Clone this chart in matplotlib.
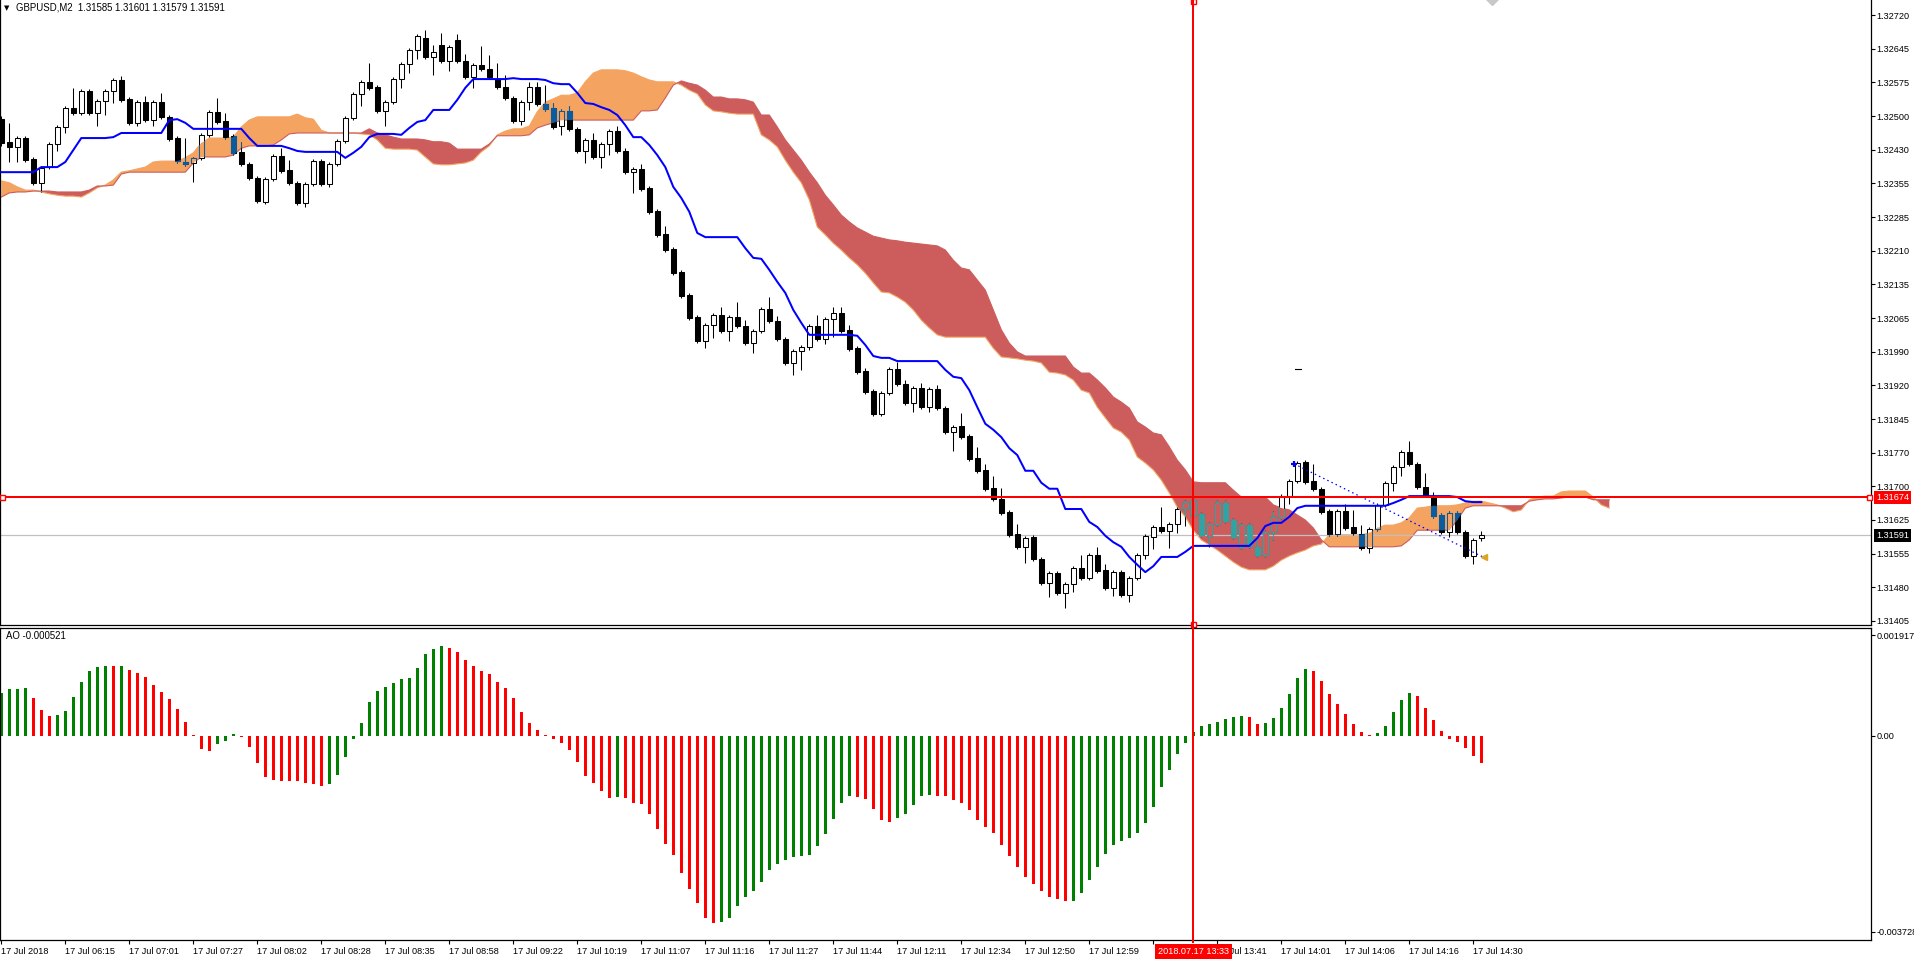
import numpy as np
import matplotlib
matplotlib.use('Agg')
import matplotlib.pyplot as plt
import matplotlib.transforms as mtransforms
from matplotlib.patches import PathPatch
from matplotlib.path import Path
from matplotlib.lines import Line2D

# ---------------------------------------------------------------- data
symbol = "GBPUSD,M2"

opens = [
    1.32494, 1.32445, 1.32434, 1.32453, 1.32408, 1.32356, 1.32390, 1.32440, 1.32477, 1.32518,
    1.32507, 1.32555, 1.32507, 1.32533, 1.32555, 1.32579, 1.32538, 1.32486, 1.32531, 1.32492,
    1.32531, 1.32499, 1.32453, 1.32401, 1.32399, 1.32410, 1.32460, 1.32510, 1.32490, 1.32458,
    1.32423, 1.32397, 1.32366, 1.32314, 1.32364, 1.32414, 1.32384, 1.32356, 1.32312, 1.32353,
    1.32403, 1.32353, 1.32397, 1.32447, 1.32497, 1.32549, 1.32575, 1.32564, 1.32512, 1.32531,
    1.32581, 1.32614, 1.32644, 1.32670, 1.32629, 1.32655, 1.32620, 1.32666, 1.32620, 1.32586,
    1.32612, 1.32603, 1.32581, 1.32564, 1.32540, 1.32490, 1.32531, 1.32564, 1.32527, 1.32518,
    1.32479, 1.32512, 1.32473, 1.32425, 1.32449, 1.32412, 1.32440, 1.32468, 1.32425, 1.32379,
    1.32386, 1.32345, 1.32295, 1.32245, 1.32212, 1.32162, 1.32112, 1.32065, 1.32013, 1.32047,
    1.32069, 1.32034, 1.32065, 1.32045, 1.32008, 1.32034, 1.32082, 1.32056, 1.32017, 1.31965,
    1.31991, 1.32000, 1.32045, 1.32017, 1.32060, 1.32073, 1.32037, 1.31997, 1.31948, 1.31904,
    1.31854, 1.31900, 1.31952, 1.31919, 1.31878, 1.31911, 1.31869, 1.31909, 1.31867, 1.31815,
    1.31828, 1.31807, 1.31759, 1.31733, 1.31694, 1.31670, 1.31642, 1.31594, 1.31566, 1.31587,
    1.31540, 1.31488, 1.31509, 1.31466, 1.31485, 1.31520, 1.31498, 1.31548, 1.31516, 1.31477,
    1.31511, 1.31461, 1.31498, 1.31548, 1.31587, 1.31609, 1.31600, 1.31616, 1.31648, 1.31635,
    1.31637, 1.31590, 1.31616, 1.31661, 1.31624, 1.31566, 1.31613, 1.31566, 1.31548, 1.31598,
    1.31631, 1.31676, 1.31709, 1.31750, 1.31709, 1.31692, 1.31644, 1.31594, 1.31644, 1.31609,
    1.31594, 1.31563, 1.31605, 1.31657, 1.31705, 1.31739, 1.31772, 1.31746, 1.31696, 1.31676,
    1.31635, 1.31598, 1.31639, 1.31598, 1.31546, 1.31585,
]
highs = [
    1.32501, 1.32486, 1.32458, 1.32458, 1.32412, 1.32392, 1.32445, 1.32481, 1.32523, 1.32562,
    1.32560, 1.32560, 1.32538, 1.32560, 1.32583, 1.32588, 1.32542, 1.32536, 1.32544, 1.32536,
    1.32551, 1.32503, 1.32458, 1.32453, 1.32412, 1.32464, 1.32514, 1.32540, 1.32507, 1.32462,
    1.32445, 1.32401, 1.32371, 1.32369, 1.32418, 1.32431, 1.32405, 1.32360, 1.32358, 1.32408,
    1.32408, 1.32401, 1.32451, 1.32501, 1.32553, 1.32579, 1.32616, 1.32568, 1.32536, 1.32586,
    1.32618, 1.32648, 1.32679, 1.32688, 1.32655, 1.32681, 1.32655, 1.32679, 1.32635, 1.32616,
    1.32653, 1.32633, 1.32616, 1.32590, 1.32544, 1.32536, 1.32575, 1.32575, 1.32568, 1.32529,
    1.32516, 1.32523, 1.32477, 1.32453, 1.32464, 1.32445, 1.32473, 1.32479, 1.32431, 1.32390,
    1.32397, 1.32349, 1.32299, 1.32262, 1.32217, 1.32167, 1.32117, 1.32069, 1.32052, 1.32073,
    1.32086, 1.32069, 1.32097, 1.32058, 1.32039, 1.32086, 1.32108, 1.32067, 1.32021, 1.31995,
    1.32004, 1.32050, 1.32069, 1.32065, 1.32086, 1.32086, 1.32047, 1.32002, 1.31954, 1.31909,
    1.31904, 1.31956, 1.31967, 1.31928, 1.31915, 1.31922, 1.31913, 1.31917, 1.31872, 1.31830,
    1.31856, 1.31811, 1.31783, 1.31746, 1.31720, 1.31694, 1.31646, 1.31616, 1.31590, 1.31592,
    1.31544, 1.31514, 1.31514, 1.31490, 1.31524, 1.31548, 1.31553, 1.31566, 1.31529, 1.31516,
    1.31516, 1.31503, 1.31553, 1.31594, 1.31613, 1.31652, 1.31620, 1.31652, 1.31668, 1.31672,
    1.31642, 1.31620, 1.31668, 1.31668, 1.31629, 1.31618, 1.31618, 1.31585, 1.31603, 1.31644,
    1.31681, 1.31713, 1.31752, 1.31754, 1.31746, 1.31696, 1.31648, 1.31648, 1.31659, 1.31646,
    1.31613, 1.31609, 1.31661, 1.31709, 1.31744, 1.31776, 1.31796, 1.31750, 1.31726, 1.31685,
    1.31639, 1.31644, 1.31644, 1.31603, 1.31585, 1.31601,
]
lows = [
    1.32436, 1.32401, 1.32401, 1.32401, 1.32351, 1.32336, 1.32386, 1.32425, 1.32464, 1.32503,
    1.32503, 1.32503, 1.32479, 1.32503, 1.32529, 1.32531, 1.32481, 1.32479, 1.32488, 1.32479,
    1.32494, 1.32447, 1.32399, 1.32392, 1.32358, 1.32405, 1.32455, 1.32484, 1.32451, 1.32416,
    1.32392, 1.32362, 1.32312, 1.32310, 1.32360, 1.32377, 1.32351, 1.32308, 1.32303, 1.32349,
    1.32349, 1.32347, 1.32392, 1.32442, 1.32492, 1.32523, 1.32557, 1.32507, 1.32479, 1.32527,
    1.32562, 1.32594, 1.32625, 1.32625, 1.32590, 1.32616, 1.32599, 1.32616, 1.32581, 1.32562,
    1.32599, 1.32581, 1.32560, 1.32536, 1.32486, 1.32481, 1.32514, 1.32523, 1.32512, 1.32473,
    1.32460, 1.32468, 1.32421, 1.32399, 1.32408, 1.32388, 1.32416, 1.32421, 1.32375, 1.32334,
    1.32338, 1.32288, 1.32238, 1.32206, 1.32156, 1.32106, 1.32058, 1.32008, 1.31997, 1.32019,
    1.32030, 1.32013, 1.32041, 1.32004, 1.31987, 1.32030, 1.32052, 1.32013, 1.31961, 1.31939,
    1.31950, 1.31993, 1.32013, 1.32006, 1.32021, 1.32030, 1.31991, 1.31941, 1.31898, 1.31850,
    1.31850, 1.31895, 1.31915, 1.31874, 1.31859, 1.31865, 1.31859, 1.31863, 1.31811, 1.31774,
    1.31800, 1.31752, 1.31726, 1.31687, 1.31665, 1.31635, 1.31587, 1.31561, 1.31531, 1.31535,
    1.31483, 1.31457, 1.31461, 1.31433, 1.31468, 1.31494, 1.31494, 1.31509, 1.31472, 1.31459,
    1.31457, 1.31446, 1.31494, 1.31540, 1.31561, 1.31596, 1.31563, 1.31596, 1.31611, 1.31631,
    1.31587, 1.31566, 1.31611, 1.31618, 1.31583, 1.31561, 1.31563, 1.31544, 1.31544, 1.31581,
    1.31626, 1.31659, 1.31705, 1.31702, 1.31687, 1.31637, 1.31590, 1.31590, 1.31603, 1.31592,
    1.31559, 1.31553, 1.31600, 1.31652, 1.31687, 1.31720, 1.31741, 1.31692, 1.31674, 1.31629,
    1.31594, 1.31587, 1.31594, 1.31542, 1.31529, 1.31579,
]
closes = [
    1.32442, 1.32434, 1.32453, 1.32405, 1.32356, 1.32388, 1.32440, 1.32477, 1.32518, 1.32507,
    1.32555, 1.32507, 1.32533, 1.32555, 1.32579, 1.32536, 1.32486, 1.32531, 1.32492, 1.32531,
    1.32499, 1.32451, 1.32403, 1.32397, 1.32410, 1.32460, 1.32510, 1.32488, 1.32455, 1.32421,
    1.32397, 1.32366, 1.32316, 1.32364, 1.32414, 1.32382, 1.32356, 1.32312, 1.32353, 1.32403,
    1.32353, 1.32397, 1.32447, 1.32497, 1.32549, 1.32575, 1.32562, 1.32512, 1.32531, 1.32581,
    1.32614, 1.32644, 1.32674, 1.32629, 1.32640, 1.32620, 1.32651, 1.32620, 1.32586, 1.32612,
    1.32603, 1.32586, 1.32564, 1.32540, 1.32490, 1.32531, 1.32564, 1.32527, 1.32516, 1.32477,
    1.32512, 1.32473, 1.32425, 1.32449, 1.32412, 1.32440, 1.32468, 1.32425, 1.32379, 1.32386,
    1.32343, 1.32293, 1.32243, 1.32210, 1.32160, 1.32110, 1.32063, 1.32013, 1.32047, 1.32069,
    1.32034, 1.32065, 1.32045, 1.32008, 1.32034, 1.32082, 1.32056, 1.32017, 1.31965, 1.31991,
    1.32000, 1.32045, 1.32017, 1.32060, 1.32073, 1.32034, 1.31995, 1.31945, 1.31902, 1.31854,
    1.31900, 1.31952, 1.31919, 1.31878, 1.31911, 1.31869, 1.31909, 1.31867, 1.31815, 1.31826,
    1.31804, 1.31757, 1.31731, 1.31692, 1.31670, 1.31639, 1.31592, 1.31566, 1.31585, 1.31540,
    1.31488, 1.31509, 1.31466, 1.31485, 1.31520, 1.31498, 1.31548, 1.31514, 1.31477, 1.31511,
    1.31461, 1.31498, 1.31548, 1.31590, 1.31609, 1.31600, 1.31616, 1.31648, 1.31663, 1.31668,
    1.31592, 1.31616, 1.31661, 1.31622, 1.31587, 1.31613, 1.31568, 1.31548, 1.31598, 1.31631,
    1.31676, 1.31709, 1.31748, 1.31707, 1.31692, 1.31642, 1.31594, 1.31644, 1.31607, 1.31596,
    1.31563, 1.31605, 1.31657, 1.31705, 1.31739, 1.31772, 1.31746, 1.31696, 1.31678, 1.31633,
    1.31598, 1.31639, 1.31598, 1.31546, 1.31581, 1.31591,
]

# blue line (ichimoku tenkan-sen)
tenkan = [
    1.32379, 1.32379, 1.32379, 1.32379, 1.32379, 1.32390, 1.32390, 1.32390, 1.32401, 1.32427,
    1.32453, 1.32453, 1.32453, 1.32453, 1.32455, 1.32464, 1.32464, 1.32464, 1.32464, 1.32464,
    1.32464, 1.32492, 1.32494, 1.32486, 1.32473, 1.32473, 1.32473, 1.32473, 1.32473, 1.32473,
    1.32473, 1.32453, 1.32436, 1.32436, 1.32436, 1.32436, 1.32431, 1.32425, 1.32423, 1.32423,
    1.32423, 1.32423, 1.32423, 1.32410, 1.32421, 1.32434, 1.32455, 1.32462, 1.32462, 1.32462,
    1.32460, 1.32475, 1.32488, 1.32492, 1.32514, 1.32514, 1.32514, 1.32536, 1.32562, 1.32581,
    1.32581, 1.32581, 1.32581, 1.32581, 1.32583, 1.32581, 1.32581, 1.32581, 1.32579, 1.32572,
    1.32570, 1.32570, 1.32551, 1.32529, 1.32527, 1.32520, 1.32514, 1.32503, 1.32481, 1.32455,
    1.32455, 1.32438, 1.32416, 1.32390, 1.32347, 1.32323, 1.32293, 1.32247, 1.32238, 1.32238,
    1.32238, 1.32238, 1.32238, 1.32214, 1.32193, 1.32191, 1.32167, 1.32141, 1.32117, 1.32080,
    1.32052, 1.32026, 1.32026, 1.32026, 1.32026, 1.32026, 1.32026, 1.32024, 1.32004, 1.31980,
    1.31976, 1.31976, 1.31969, 1.31969, 1.31969, 1.31969, 1.31969, 1.31969, 1.31950, 1.31935,
    1.31932, 1.31906, 1.31869, 1.31833, 1.31820, 1.31804, 1.31780, 1.31765, 1.31731, 1.31731,
    1.31705, 1.31692, 1.31692, 1.31648, 1.31648, 1.31648, 1.31620, 1.31609, 1.31590, 1.31576,
    1.31566, 1.31544, 1.31527, 1.31511, 1.31524, 1.31544, 1.31544, 1.31544, 1.31555, 1.31568,
    1.31568, 1.31568, 1.31568, 1.31568, 1.31568, 1.31568, 1.31568, 1.31585, 1.31611, 1.31618,
    1.31618, 1.31631, 1.31650, 1.31655, 1.31655, 1.31655, 1.31655, 1.31655, 1.31655, 1.31655,
    1.31655, 1.31655, 1.31655, 1.31655, 1.31661, 1.31668, 1.31676, 1.31676, 1.31676, 1.31676,
    1.31676, 1.31676, 1.31674, 1.31665, 1.31663, 1.31663,
]

# cloud spans, they run 16 bars past the last candle
span_a = [
    1.32360, 1.32356, 1.32347, 1.32340, 1.32340, 1.32336, 1.32332, 1.32329, 1.32327, 1.32327,
    1.32325, 1.32334, 1.32345, 1.32351, 1.32362, 1.32379, 1.32382, 1.32386, 1.32390, 1.32401,
    1.32403, 1.32403, 1.32403, 1.32410, 1.32421, 1.32442, 1.32453, 1.32453, 1.32453, 1.32455,
    1.32477, 1.32492, 1.32499, 1.32499, 1.32499, 1.32499, 1.32499, 1.32505, 1.32497, 1.32494,
    1.32470, 1.32464, 1.32464, 1.32464, 1.32464, 1.32462, 1.32460, 1.32449, 1.32431, 1.32429,
    1.32429, 1.32429, 1.32427, 1.32412, 1.32397, 1.32395, 1.32395, 1.32397, 1.32399, 1.32405,
    1.32423, 1.32436, 1.32460, 1.32468, 1.32473, 1.32473, 1.32479, 1.32510, 1.32531, 1.32538,
    1.32546, 1.32546, 1.32551, 1.32575, 1.32594, 1.32601, 1.32601, 1.32601, 1.32599, 1.32594,
    1.32586, 1.32579, 1.32575, 1.32575, 1.32575, 1.32568, 1.32557, 1.32549, 1.32525, 1.32512,
    1.32510, 1.32507, 1.32505, 1.32505, 1.32505, 1.32460, 1.32449, 1.32434, 1.32405, 1.32379,
    1.32356, 1.32319, 1.32260, 1.32243, 1.32225, 1.32210, 1.32193, 1.32178, 1.32160, 1.32139,
    1.32119, 1.32117, 1.32108, 1.32097, 1.32080, 1.32058, 1.32041, 1.32026, 1.32021, 1.32021,
    1.32021, 1.32021, 1.32021, 1.32021, 1.31997, 1.31978, 1.31976, 1.31974, 1.31971, 1.31969,
    1.31965, 1.31945, 1.31943, 1.31939, 1.31928, 1.31906, 1.31900, 1.31869, 1.31846, 1.31824,
    1.31815, 1.31798, 1.31761, 1.31748, 1.31733, 1.31711, 1.31683, 1.31652, 1.31631, 1.31602,
    1.31581, 1.31570, 1.31559, 1.31546, 1.31533, 1.31522, 1.31516, 1.31516, 1.31516, 1.31524,
    1.31537, 1.31546, 1.31553, 1.31559, 1.31568, 1.31572, 1.31592, 1.31592, 1.31592, 1.31592,
    1.31592, 1.31596, 1.31607, 1.31613, 1.31613, 1.31618, 1.31629, 1.31650, 1.31652, 1.31655,
    1.31655, 1.31655, 1.31657, 1.31661, 1.31665, 1.31665, 1.31661, 1.31657, 1.31650, 1.31642,
    1.31646, 1.31668, 1.31674, 1.31676, 1.31676, 1.31685, 1.31687, 1.31687, 1.31687, 1.31674,
    1.31657, 1.31650,
]
span_b = [
    1.32325, 1.32334, 1.32336, 1.32336, 1.32338, 1.32338, 1.32338, 1.32336, 1.32336, 1.32336,
    1.32336, 1.32340, 1.32349, 1.32349, 1.32351, 1.32375, 1.32379, 1.32379, 1.32379, 1.32379,
    1.32379, 1.32379, 1.32379, 1.32379, 1.32399, 1.32412, 1.32412, 1.32412, 1.32412, 1.32416,
    1.32431, 1.32436, 1.32436, 1.32436, 1.32438, 1.32449, 1.32462, 1.32464, 1.32464, 1.32464,
    1.32464, 1.32464, 1.32464, 1.32464, 1.32464, 1.32464, 1.32473, 1.32464, 1.32460, 1.32455,
    1.32451, 1.32451, 1.32451, 1.32449, 1.32445, 1.32445, 1.32442, 1.32429, 1.32429, 1.32429,
    1.32429, 1.32440, 1.32458, 1.32458, 1.32458, 1.32458, 1.32460, 1.32475, 1.32481, 1.32486,
    1.32492, 1.32492, 1.32492, 1.32492, 1.32492, 1.32492, 1.32492, 1.32492, 1.32492, 1.32492,
    1.32512, 1.32512, 1.32514, 1.32540, 1.32568, 1.32577, 1.32572, 1.32568, 1.32557, 1.32542,
    1.32542, 1.32538, 1.32538, 1.32536, 1.32531, 1.32503, 1.32503, 1.32477, 1.32449, 1.32427,
    1.32405, 1.32379, 1.32356, 1.32329, 1.32308, 1.32286, 1.32271, 1.32258, 1.32249, 1.32240,
    1.32236, 1.32232, 1.32230, 1.32227, 1.32225, 1.32223, 1.32221, 1.32219, 1.32210, 1.32188,
    1.32171, 1.32167, 1.32145, 1.32123, 1.32080, 1.32037, 1.32008, 1.31989, 1.31980, 1.31980,
    1.31980, 1.31980, 1.31980, 1.31980, 1.31956, 1.31943, 1.31943, 1.31928, 1.31911, 1.31891,
    1.31880, 1.31867, 1.31837, 1.31826, 1.31813, 1.31809, 1.31783, 1.31754, 1.31733, 1.31707,
    1.31705, 1.31705, 1.31705, 1.31705, 1.31689, 1.31674, 1.31674, 1.31674, 1.31674, 1.31657,
    1.31650, 1.31646, 1.31635, 1.31624, 1.31607, 1.31581, 1.31566, 1.31566, 1.31566, 1.31566,
    1.31566, 1.31566, 1.31566, 1.31566, 1.31566, 1.31568, 1.31581, 1.31602, 1.31602, 1.31602,
    1.31602, 1.31602, 1.31624, 1.31650, 1.31655, 1.31655, 1.31655, 1.31655, 1.31655, 1.31655,
    1.31655, 1.31665, 1.31668, 1.31670, 1.31670, 1.31672, 1.31674, 1.31674, 1.31674, 1.31668,
    1.31668, 1.31668,
]

# awesome oscillator
ao = [
    0.000814, 0.000890, 0.000895, 0.000900, 0.000720, 0.000492, 0.000379, 0.000398, 0.000474, 0.000739,
    0.001023, 0.001231, 0.001307, 0.001326, 0.001320, 0.001328, 0.001250, 0.001193, 0.001117, 0.000966,
    0.000833, 0.000701, 0.000511, 0.000265, 0.000010, -0.000246, -0.000284, -0.000152, -0.000095, 0.000038,
    -0.000019, -0.000208, -0.000511, -0.000795, -0.000852, -0.000860, -0.000865, -0.000870, -0.000909, -0.000928,
    -0.000966, -0.000928, -0.000739, -0.000398, -0.000057, 0.000246, 0.000644, 0.000850, 0.000928, 0.001004,
    0.001080, 0.001099, 0.001288, 0.001553, 0.001648, 0.001705, 0.001667, 0.001591, 0.001439, 0.001326,
    0.001231, 0.001174, 0.001023, 0.000909, 0.000720, 0.000455, 0.000246, 0.000114, 0.000019, -0.000057,
    -0.000133, -0.000265, -0.000492, -0.000758, -0.000909, -0.001061, -0.001193, -0.001174, -0.001180, -0.001288,
    -0.001307, -0.001496, -0.001780, -0.002064, -0.002273, -0.002614, -0.002917, -0.003182, -0.003466, -0.003561,
    -0.003555, -0.003466, -0.003239, -0.003068, -0.002955, -0.002784, -0.002557, -0.002443, -0.002368, -0.002311,
    -0.002292, -0.002273, -0.002102, -0.001875, -0.001591, -0.001288, -0.001155, -0.001160, -0.001212, -0.001402,
    -0.001610, -0.001648, -0.001572, -0.001496, -0.001326, -0.001155, -0.001136, -0.001140, -0.001155, -0.001231,
    -0.001288, -0.001421, -0.001610, -0.001742, -0.001856, -0.002083, -0.002292, -0.002500, -0.002689, -0.002822,
    -0.002955, -0.003068, -0.003106, -0.003144, -0.003140, -0.002993, -0.002746, -0.002500, -0.002254, -0.002083,
    -0.002008, -0.001951, -0.001856, -0.001667, -0.001364, -0.000985, -0.000644, -0.000341, -0.000133, 0.000076,
    0.000189, 0.000227, 0.000265, 0.000322, 0.000360, 0.000379, 0.000360, 0.000227, 0.000246, 0.000341,
    0.000530, 0.000795, 0.001099, 0.001269, 0.001231, 0.001042, 0.000795, 0.000606, 0.000417, 0.000227,
    0.000076, 0.000019, 0.000057, 0.000189, 0.000455, 0.000682, 0.000814, 0.000758, 0.000530, 0.000303,
    0.000095, -0.000057, -0.000114, -0.000227, -0.000379, -0.000521,
]

# one time label every 8 bars (the one under the crosshair box is hidden)
time_labels = [
    "17 Jul 2018", "17 Jul 06:15", "17 Jul 07:01", "17 Jul 07:27", "17 Jul 08:02",
    "17 Jul 08:28", "17 Jul 08:35", "17 Jul 08:58", "17 Jul 09:22", "17 Jul 10:19",
    "17 Jul 11:07", "17 Jul 11:16", "17 Jul 11:27", "17 Jul 11:44", "17 Jul 12:11",
    "17 Jul 12:34", "17 Jul 12:50", "17 Jul 12:59", "", "17 Jul 13:41",
    "17 Jul 14:01", "17 Jul 14:06", "17 Jul 14:16", "17 Jul 14:30",
]
price_labels = [
    "1.31405", "1.31480", "1.31555", "1.31625", "1.31700", "1.31770", "1.31845",
    "1.31920", "1.31990", "1.32065", "1.32135", "1.32210", "1.32285", "1.32355",
    "1.32430", "1.32500", "1.32575", "1.32645", "1.32720",
]
ao_ticks = [0.001917, 0.0, -0.003728]
ao_tick_labels = ["0.001917", "0.00", "-0.003728"]

crosshair_bar = 149
crosshair_price = 1.31674
crosshair_time = "2018.07.17 13:33"
bid_price = 1.31591
trend_bars = [161.6, 185.2]
trend_prices = [1.31746, 1.31544]

# ---------------------------------------------------------------- style
ORANGE = '#F4A460'
ORANGE_INV = '#0B5B9F'
INDIAN = '#CD5C5C'
INDIAN_INV = '#32A3A3'
FS = 6.6

plt.rcParams['font.family'] = ['Liberation Sans', 'DejaVu Sans']

W, H = 1914, 961
PLOT_R = 1871
PRICE_BOTTOM = 625
AO_TOP, AO_BOTTOM = 628, 940

fig = plt.figure(figsize=(W / 100, H / 100), dpi=100)
fig.patch.set_facecolor('white')
ax = fig.add_axes([0, 1 - PRICE_BOTTOM / H, PLOT_R / W, PRICE_BOTTOM / H])
ax2 = fig.add_axes([0, 1 - AO_BOTTOM / H, PLOT_R / W, (AO_BOTTOM - AO_TOP) / H])

xlim = (-1.3 / 8, (PLOT_R - 1.3) / 8)
for a in (ax, ax2):
    a.set_xlim(*xlim)
    for s in a.spines.values():
        s.set_linewidth(0.9)
        s.set_color('black')
ax.spines['top'].set_visible(False)
ax.set_ylim(1.313963, 1.327526)
ax2.set_ylim(-0.0038893, 0.0020503)

o = np.array(opens)
h = np.array(highs)
l = np.array(lows)
c = np.array(closes)
n = len(o)
xb = np.arange(n)

# ---------------------------------------------------------------- cloud
sa = np.array(span_a)
sb = np.array(span_b)
xc = np.arange(len(sa))
cloud_up = ax.fill_between(xc, sa, sb, where=sa >= sb, interpolate=True,
                           color=ORANGE, lw=0, zorder=1)
cloud_dn = ax.fill_between(xc, sa, sb, where=sb > sa, interpolate=True,
                           color=INDIAN, lw=0, zorder=1)
ax.plot(xc, sa, color=ORANGE, lw=0.8, zorder=1.2)
ax.plot(xc, sb, color=INDIAN, lw=0.8, zorder=1.3)

ax.axhline(bid_price, color='#C0C0C0', lw=0.9, zorder=1.5)


def region_clip(coll):
    paths = coll.get_paths()
    comp = Path.make_compound_path(*paths)
    return PathPatch(comp, transform=ax.transData)


def draw_candles(edge, bull_face, bear_face, clip=None, z=3):
    wick = ax.vlines(xb, l, h, colors=edge, linewidth=0.75, zorder=z)
    body = np.maximum(np.abs(c - o), 0.000006)
    faces = [bull_face if cc >= oo else bear_face for oo, cc in zip(o, c)]
    bars = ax.bar(xb, body, bottom=np.minimum(o, c), width=0.56, color=faces,
                  edgecolor=edge, linewidth=0.75, zorder=z + 0.1)
    if clip is not None:
        wick.set_clip_path(clip)
        for b in bars:
            b.set_clip_path(clip)


draw_candles('black', 'white', 'black', z=3)
# inside the cloud MT4 shows the candles with inverted colours
draw_candles(ORANGE_INV, ORANGE, ORANGE_INV, clip=region_clip(cloud_up), z=3.5)
draw_candles(INDIAN_INV, INDIAN, INDIAN_INV, clip=region_clip(cloud_dn), z=3.5)

ax.plot(xb, tenkan, color='#0000FF', lw=1.45, zorder=5)

# trend line object
ax.plot(trend_bars, trend_prices, color='#0000FF', lw=0.9, ls=(0, (1.2, 2.5)), zorder=5)
ax.plot(trend_bars[0], trend_prices[0], marker='+', color='#0000FF', ms=5, mew=1.6, zorder=5)
ax.plot(trend_bars[1] + 0.2, trend_prices[1], marker='<', color='#DAA520', ms=5, zorder=5)
ax.plot([161.7, 162.5], [1.31952, 1.31952], color='black', lw=0.8, zorder=5)
ax.plot(186.3, 1.32755, marker='D', color='#C8C8C8', ms=6, zorder=5)

# crosshair
ax.axhline(crosshair_price, color='#FF0000', lw=1.45, zorder=6)
xf = (1.3 + 8 * crosshair_bar) / W
fig.add_artist(Line2D([xf, xf], [1 - (AO_BOTTOM + 2) / H, 1], transform=fig.transFigure,
                      color='#FF0000', lw=1.45, zorder=6))
sq = dict(marker='s', ms=3.6, mfc='white', mec='#FF0000', mew=1.0, clip_on=False, zorder=7)
ax.plot(xlim[0] + 0.25, crosshair_price, **sq)
ax.plot(xlim[1] - 0.3, crosshair_price, **sq)
ax.plot(crosshair_bar, 1.327526 - 0.00003, **sq)
ax.plot(crosshair_bar, 1.313963 + 0.00002, **sq)

# ---------------------------------------------------------------- price scale
ax.set_xticks([])
ax.yaxis.tick_right()
ax.set_yticks(np.linspace(1.31405, 1.32720, len(price_labels)))
ax.set_yticklabels(price_labels)
ax.tick_params(axis='y', direction='out', length=3, width=0.8, pad=1.2,
               labelsize=FS, colors='black')

trans_r = mtransforms.blended_transform_factory(ax.transAxes, ax.transData)
ax.text(1.0028, crosshair_price, f"{crosshair_price:.5f}", transform=trans_r,
        ha='left', va='center', fontsize=FS, color='white', clip_on=False, zorder=10,
        bbox=dict(boxstyle='square,pad=0.22', fc='#FF0000', ec='none'))
ax.text(1.0028, bid_price, f"{bid_price:.5f}", transform=trans_r,
        ha='left', va='center', fontsize=FS, color='white', clip_on=False, zorder=10,
        bbox=dict(boxstyle='square,pad=0.22', fc='black', ec='none'))

fig.text(4 / W, 1 - 8 / H, "\u25BC", fontsize=5, va='center', ha='left',
         family='DejaVu Sans')
fig.text(16 / W, 1 - 8 / H,
         f"{symbol}  {opens[-1]:.5f} {highs[-1]:.5f} {lows[-1]:.5f} {closes[-1]:.5f}",
         fontsize=FS + 0.3, va='center', ha='left')

# ---------------------------------------------------------------- AO panel
aov = np.array(ao)
ao_cols = ['#008000'] + ['#008000' if aov[i] > aov[i - 1] else '#FF0000'
                         for i in range(1, len(aov))]
ax2.bar(np.arange(len(aov)), aov, width=0.36, color=ao_cols, linewidth=0, zorder=2)

ax2.yaxis.tick_right()
ax2.set_yticks(ao_ticks)
ax2.set_yticklabels(ao_tick_labels)
ax2.tick_params(axis='y', direction='out', length=3, width=0.8, pad=1.2,
                labelsize=FS, colors='black')
ax2.text(6 / PLOT_R, 0.0019, f"AO {ao[-1]:.6f}", fontsize=FS + 0.3, va='center', ha='left',
         transform=mtransforms.blended_transform_factory(ax2.transAxes, ax2.transData))

ax2.set_xticks(np.arange(0, 8 * len(time_labels), 8))
ax2.set_xticklabels(time_labels)
for t in ax2.get_xticklabels():
    t.set_horizontalalignment('left')
ax2.tick_params(axis='x', direction='out', length=3, width=0.8, pad=2,
                labelsize=FS, colors='black')

trans_b = mtransforms.blended_transform_factory(ax2.transData, ax2.transAxes)
ax2.text(crosshair_bar, -0.022, crosshair_time, transform=trans_b, ha='center', va='top',
         fontsize=FS, color='white', clip_on=False, zorder=10,
         bbox=dict(boxstyle='square,pad=0.3', fc='#FF0000', ec='none'))

fig.savefig('out.png', dpi=100, facecolor='white')
